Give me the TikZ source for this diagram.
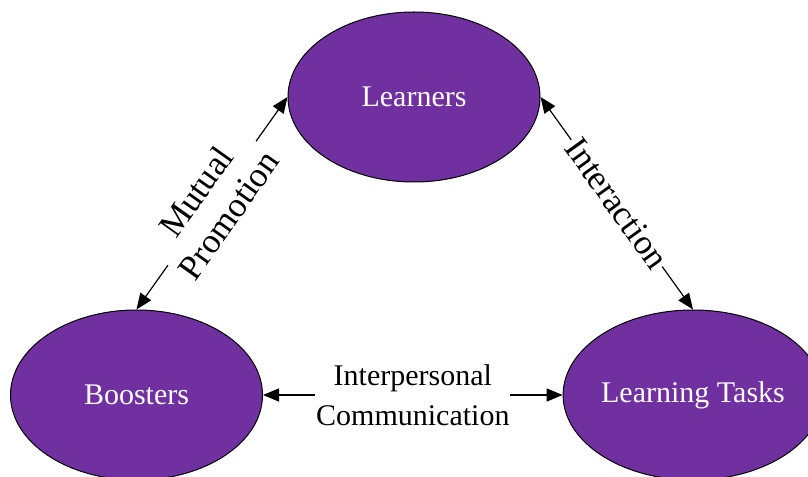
\documentclass[tikz,border=0pt]{standalone}
\usepackage{fontspec}
\setmainfont{Liberation Serif}
\usetikzlibrary{arrows.meta,shapes.geometric}
\definecolor{nodepurple}{RGB}{112,48,160}
\begin{document}
\begin{tikzpicture}[x=1bp,y=-1bp,
  bubble/.style={ellipse, draw=black, line width=1bp, fill=nodepurple, text=white,
    minimum width=252bp, minimum height=170bp, inner sep=0pt,
    font=\fontsize{30bp}{36bp}\selectfont},
  link/.style={line width=1.2bp, {Triangle[length=16bp,width=13bp]}-{Triangle[length=16bp,width=13bp]}},
  lab/.style={fill=white, align=center, inner ysep=2bp, inner xsep=1bp,
    font=\fontsize{30bp}{40bp}\selectfont},
  slab/.style={lab, sloped, inner xsep=2bp, font=\fontsize{35bp}{40bp}\selectfont}]
\useasboundingbox (0,0) rectangle (808,477);
\node[bubble] (L) at (414,97) {Learners};
\node[bubble] (B) at (136.5,395) {Boosters};
\node[bubble] (T) at (693,395) {Learning Tasks};
\draw[link] (B.north) -- node[slab] {Mutual\\Promotion} (L.west);
\draw[link] (L.east) -- node[slab] {Interaction} (T.north);
\draw[link] (B.east) -- node[lab] {Interpersonal\\Communication} (T.west);
\end{tikzpicture}
\end{document}
